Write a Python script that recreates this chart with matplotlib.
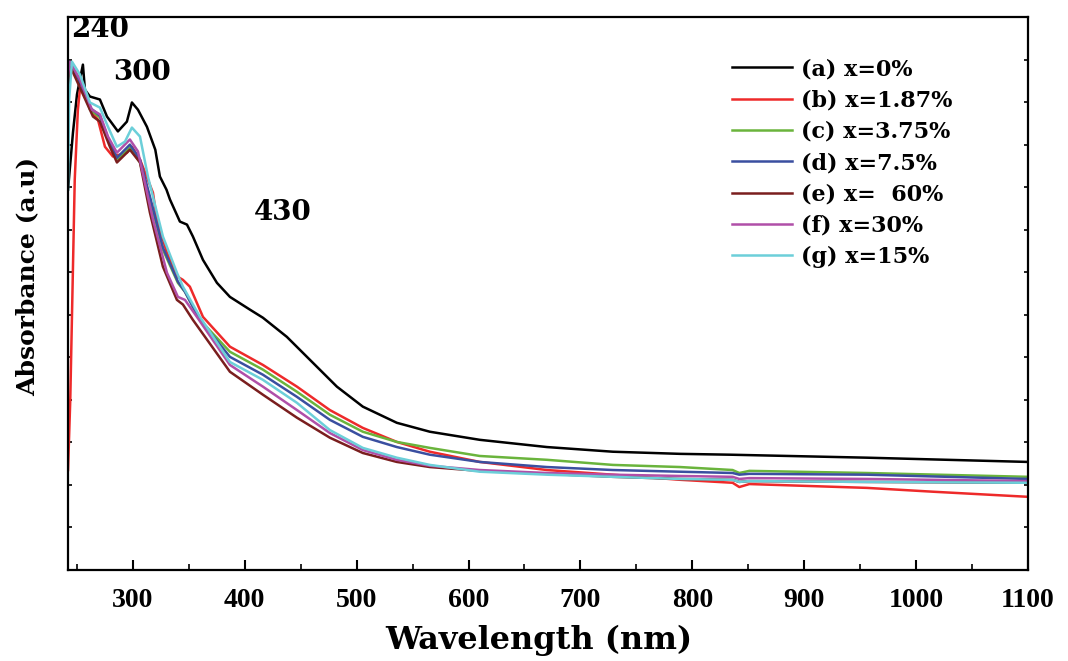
import numpy as np
import matplotlib
matplotlib.use('Agg')
import matplotlib.pyplot as plt
from matplotlib.ticker import MultipleLocator

# (a) x=0%
wl_a = [242, 246.4, 250, 255.3, 257.1, 261.6, 270.5, 276.8, 286.6, 294.6, 299.1, 304.5,
        312.5, 320, 324.1, 330, 333.1, 342, 348.3, 353.6, 362.6, 375.1, 386.7, 404.6,
        416.2, 437.6, 460.9, 482.3, 505.5, 535.9, 565.4, 610, 670, 729, 789, 834, 956, 1100]
ab_a = [0.894, 1.028, 1.118, 1.188, 1.129, 1.113, 1.106, 1.066, 1.031, 1.054, 1.099, 1.082,
        1.042, 0.988, 0.925, 0.894, 0.871, 0.819, 0.812, 0.784, 0.729, 0.675, 0.642, 0.612,
        0.593, 0.548, 0.487, 0.431, 0.384, 0.346, 0.325, 0.306, 0.289, 0.278, 0.273, 0.271, 0.264, 0.254]

# (b) x=1.87%
wl_b = [242, 244, 248, 250.8, 252.6, 257.1, 263.4, 268.7, 275, 282.1, 294.6, 299.1, 306.3,
        317.9, 321.4, 330.4, 340.2, 344.7, 350.9, 362.6, 386.7, 416.2, 446.6, 476, 505.5,
        535.9, 565.4, 610, 670, 729, 789, 836, 842, 851, 956, 1015, 1100]
ab_b = [0.235, 0.4, 0.918, 1.082, 1.129, 1.122, 1.075, 1.059, 0.995, 0.972, 0.981, 0.995, 0.965,
        0.887, 0.824, 0.746, 0.689, 0.682, 0.666, 0.595, 0.525, 0.482, 0.431, 0.376, 0.334,
        0.301, 0.278, 0.254, 0.235, 0.224, 0.212, 0.205, 0.195, 0.202, 0.193, 0.184, 0.172]

# (c) x=3.75%
wl_c = [242, 244, 252.6, 261.6, 270.5, 277.7, 286.6, 297.3, 306.3, 315.2, 326.8, 340.2, 346.5,
        359.9, 386.7, 416.2, 446.6, 476, 505.5, 535.9, 565.4, 610, 670, 729, 789, 836, 842,
        851, 956, 1100]
ab_c = [1.153, 1.191, 1.153, 1.082, 1.064, 1.012, 0.965, 0.993, 0.958, 0.871, 0.753, 0.675, 0.654,
        0.588, 0.513, 0.471, 0.419, 0.365, 0.325, 0.301, 0.287, 0.268, 0.259, 0.247, 0.242, 0.235, 0.228,
        0.233, 0.228, 0.219]

# (d) x=7.5%
wl_d = [242, 244, 252.6, 261.6, 270.5, 277.7, 285.7, 297.3, 306.3, 315.2, 326.8, 340.2, 346.5,
        359.9, 386.7, 416.2, 446.6, 476, 505.5, 535.9, 565.4, 610, 670, 729, 789, 836, 842,
        851, 956, 1100]
ab_d = [1.141, 1.188, 1.148, 1.087, 1.068, 1.016, 0.969, 1.0, 0.965, 0.878, 0.758, 0.678, 0.654,
        0.588, 0.501, 0.459, 0.407, 0.353, 0.313, 0.289, 0.271, 0.254, 0.242, 0.235, 0.231, 0.228, 0.224,
        0.226, 0.224, 0.214]

# (e) x=60%
wl_e = [242, 244.5, 252.6, 264.3, 270.5, 279.4, 285.7, 297.3, 306.3, 315.2, 326.8, 339.3, 344.7,
        353.6, 386.7, 416.2, 446.6, 476, 505.5, 535.9, 565.4, 610, 670, 729, 789, 836, 842,
        851, 956, 1100]
ab_e = [1.129, 1.181, 1.134, 1.066, 1.054, 0.995, 0.958, 0.988, 0.958, 0.840, 0.713, 0.635, 0.624,
        0.588, 0.466, 0.412, 0.358, 0.311, 0.275, 0.254, 0.242, 0.233, 0.226, 0.219, 0.214, 0.212, 0.207,
        0.209, 0.207, 0.205]

# (f) x=30%
wl_f = [242, 243.7, 252.6, 263.4, 270.5, 277.7, 285.7, 297.3, 304.5, 317.9, 330.4, 340.2, 346.5,
        357.2, 386.7, 416.2, 446.6, 476, 505.5, 535.9, 565.4, 610, 670, 729, 789, 836, 842,
        851, 956, 1100]
ab_f = [1.165, 1.195, 1.153, 1.082, 1.071, 1.019, 0.981, 1.012, 0.984, 0.824, 0.699, 0.642, 0.635,
        0.595, 0.482, 0.431, 0.376, 0.322, 0.282, 0.259, 0.245, 0.235, 0.228, 0.224, 0.221, 0.219, 0.214,
        0.216, 0.214, 0.209]

# (g) x=15%
wl_g = [242, 243, 245.5, 252.6, 261.6, 270.5, 277.7, 285.7, 292.9, 299.1, 306.3, 313.4, 326.8,
        339.3, 344.7, 359.9, 386.7, 416.2, 446.6, 476, 505.5, 535.9, 565.4, 610, 670, 729, 789,
        836, 842, 851, 956, 1100]
ab_g = [0.894, 1.106, 1.195, 1.165, 1.099, 1.087, 1.042, 0.995, 1.007, 1.040, 1.019, 0.925, 0.784,
        0.699, 0.666, 0.595, 0.489, 0.447, 0.393, 0.329, 0.287, 0.264, 0.247, 0.231, 0.224, 0.219, 0.214,
        0.212, 0.207, 0.209, 0.207, 0.205]

labels = ['(a) x=0%', '(b) x=1.87%', '(c) x=3.75%', '(d) x=7.5%',
          '(e) x=  60%', '(f) x=30%', '(g) x=15%']
colors = ['#000000', '#ee2a2a', '#6ab43c', '#3a4fa0', '#7a1e1e', '#b04fa8', '#6ccfd9']
series = [(wl_a, ab_a), (wl_b, ab_b), (wl_c, ab_c), (wl_d, ab_d),
          (wl_e, ab_e), (wl_f, ab_f), (wl_g, ab_g)]

peaks = ['240', '300', '430']
peak_x = [270.5, 308, 434]
peak_y = [1.271, 1.169, 0.84]

fig = plt.figure(figsize=(10.68, 6.61), dpi=100)
ax = fig.add_axes([0.0637, 0.1377, 0.8988, 0.8366])

for (x, y), c, lab in zip(series, colors, labels):
    ax.plot(x, y, color=c, lw=1.8, label=lab)

for t, px, py in zip(peaks, peak_x, peak_y):
    ax.text(px, py, t, ha='center', va='center', fontsize=20,
            fontweight='bold', family='DejaVu Serif')

ax.set_xlim(242, 1100)
ax.set_ylim(0, 1.3)
ax.xaxis.set_major_locator(MultipleLocator(100))
ax.xaxis.set_minor_locator(MultipleLocator(50))
ax.yaxis.set_major_locator(MultipleLocator(0.1))
ax.tick_params(axis='x', which='major', direction='in', length=7, width=1.5,
               top=False, pad=13, labelsize=20)
ax.tick_params(axis='x', which='minor', direction='in', length=4, width=1.2, top=False)
ax.tick_params(axis='y', which='major', direction='in', length=3, width=1.2,
               left=True, right=True, labelleft=False)
for lbl in ax.get_xticklabels():
    lbl.set_family('Liberation Serif')
    lbl.set_fontweight('bold')
for s in ax.spines.values():
    s.set_linewidth(1.6)

ax.set_xlabel('Wavelength (nm)', fontsize=23, fontweight='bold', family='DejaVu Serif',
              va='center')
ax.xaxis.set_label_coords(0.49, -0.127)
ax.set_ylabel('Absorbance (a.u)', fontsize=18, fontweight='bold', family='DejaVu Serif')
ax.yaxis.set_label_coords(-0.030, 0.53)

ax.legend(loc='upper left', bbox_to_anchor=(0.671, 0.962), frameon=False,
          handlelength=2.7, handletextpad=0.4, labelspacing=0.42,
          prop={'family': 'DejaVu Serif', 'weight': 'bold', 'size': 16})

fig.savefig('out.png', dpi=100)
